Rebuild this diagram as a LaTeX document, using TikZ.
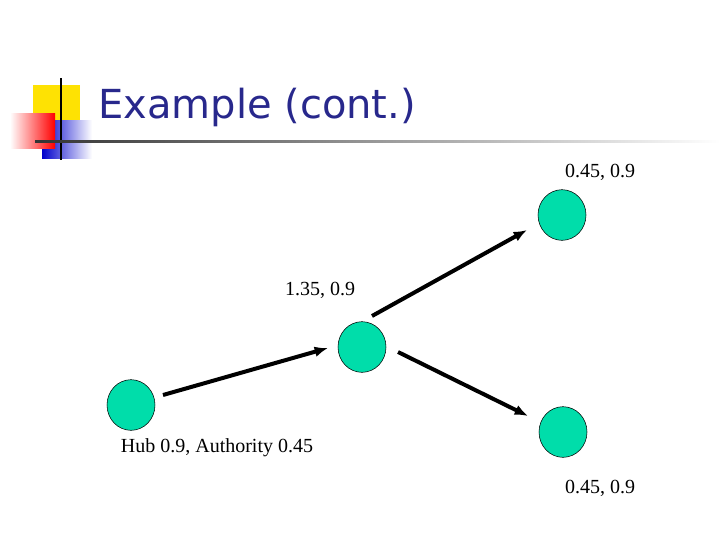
\documentclass[tikz,border=0pt]{standalone}
\usepackage{fontspec}
\setmainfont{Liberation Serif}
\newfontfamily\titlefont{DejaVu Sans}
\begin{document}
\begin{tikzpicture}[x=0.75pt,y=-0.75pt,
  vert/.style={ellipse,draw=black,thin,fill={rgb,255:red,0;green,221;blue,170},minimum width=36pt,minimum height=38pt,inner sep=0pt},
  arr/.style={line width=3pt,-{Latex[length=10pt,width=8pt]}},
  lbl/.style={font=\fontsize{15}{18}\selectfont,inner sep=0pt}]
\usetikzlibrary{arrows.meta,shapes.geometric}
\useasboundingbox (0,0) rectangle (720,540);
% logo
\fill[yellow!85!orange] (33,85) rectangle (80,130);
\shade[left color=blue!80!black, right color=white] (42,120) rectangle (92,158);
\shade[left color=white, right color=red] (10,113) rectangle (55,148);
\draw[line width=1.5pt] (61,78) -- (61,160);
\shade[left color=black!80, right color=white] (35,140) rectangle (720,142.5);
\node[anchor=base west,inner sep=0pt,text={rgb,255:red,40;green,40;blue,140},font=\titlefont\fontsize{30}{36}\selectfont] (title) at (98,118) {Example (cont.)};
% nodes
\node[vert] (tr) at (562,215) {};
\node[vert] (m) at (362,347) {};
\node[vert] (l) at (131,405) {};
\node[vert] (br) at (563,432) {};
\coordinate (a1) at (163,395); \coordinate (b1) at (328,348);
\coordinate (a2) at (372,316); \coordinate (b2) at (527,230);
\coordinate (a3) at (398,352); \coordinate (b3) at (528,416);
\draw[arr] (a1) -- (b1);
\draw[arr] (a2) -- (b2);
\draw[arr] (a3) -- (b3);
\node[lbl] (t1) at (600,172) {0.45, 0.9};
\node[lbl] (t2) at (320,290) {1.35, 0.9};
\node[lbl] (t3) at (217,448) {Hub 0.9, Authority 0.45};
\node[lbl] (t4) at (600,488) {0.45, 0.9};
\end{tikzpicture}
\end{document}
